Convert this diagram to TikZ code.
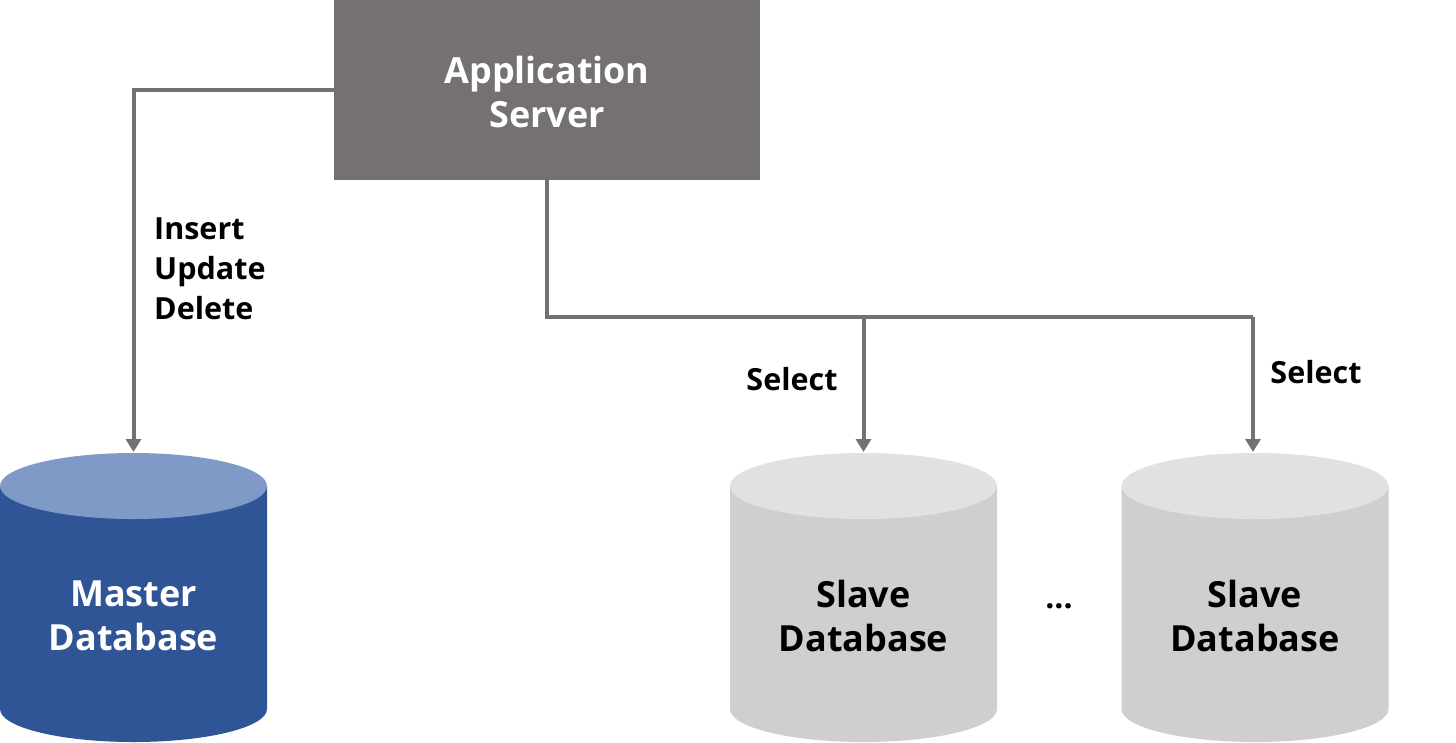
\documentclass[tikz,border=0pt]{standalone}
\usepackage{fontspec}
\setmainfont{Open Sans}
\usetikzlibrary{arrows.meta}
\definecolor{appgray}{HTML}{757171}
\definecolor{linegray}{HTML}{767171}
\definecolor{masterbody}{HTML}{2F5597}
\definecolor{mastertop}{HTML}{7F9AC6}
\definecolor{slavebody}{HTML}{D0CECE}
\definecolor{slavetop}{HTML}{E1E1E1}
\newcommand\dbcylinder[4]{% cx, body colour, top colour, name
  \fill[#2] (#1-133.5,486) -- (#1-133.5,709)
    arc[start angle=180,end angle=360,x radius=133.5pt,y radius=33pt]
    -- (#1+133.5,486) -- cycle;
  \fill[#3] (#1,486) ellipse[x radius=133.5pt,y radius=33pt];
  \coordinate (#4) at (#1,452);
}
\begin{document}
\begin{tikzpicture}[x=1pt,y=-1pt,
  conn/.style={draw=linegray,line width=4pt,-{Triangle[width=15pt,length=13pt]}},
  plain/.style={draw=linegray,line width=4pt},
  boxtext/.style={font=\fontsize{36}{44}\selectfont\bfseries,align=center,inner sep=0pt},
  lbl/.style={font=\fontsize{30.5}{40}\selectfont\bfseries,align=left,inner sep=0pt,text=black},
  appbox/.style={fill=appgray,minimum width=426pt,minimum height=180pt,inner sep=0pt}]
\useasboundingbox (0,0) rectangle (1456,742);
% application server
\node[appbox] (app) at (547,90) {};
\node[boxtext,text=white] (apptext) at (547,92) {Application\\Server};
% cylinders
\dbcylinder{133.5}{masterbody}{mastertop}{mtop}
\dbcylinder{863.5}{slavebody}{slavetop}{s1top}
\dbcylinder{1255}{slavebody}{slavetop}{s2top}
\node[boxtext,text=white] (master) at (133.5,616) {Master\\Database};
\node[boxtext,text=black] (slave1) at (863.5,616) {Slave\\Database};
\node[boxtext,text=black] (slave2) at (1255,616) {Slave\\Database};
\node[font=\fontsize{32}{32}\selectfont\bfseries,inner sep=0pt] (dots) at (1059,606) {...};
% connectors
\coordinate (bend1) at (863.5,317);
\coordinate (bend2) at (1253,317);
\draw[conn] (app.west) -| (mtop);
\draw[plain] (app.south) |- (bend2);
\draw[conn] (bend2) -- (bend2 |- s2top);
\draw[conn] (bend1) -- (s1top);
% labels
\node[lbl,anchor=north west] (iud) at (154,218) {Insert\\Update\\Delete};
\node[lbl,anchor=center] (sel1) at (792,379) {Select};
\node[lbl,anchor=center] (sel2) at (1316,372) {Select};
\end{tikzpicture}
\end{document}
